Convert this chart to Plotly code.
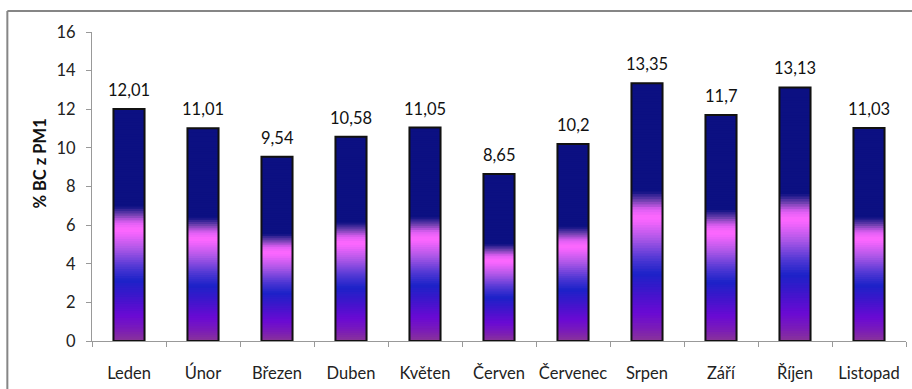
import plotly.graph_objects as go

# Monthly share of black carbon in PM1
months = ["Leden", "Únor", "Březen", "Duben", "Květen", "Červen",
          "Červenec", "Srpen", "Září", "Říjen", "Listopad"]
values = [12.01, 11.01, 9.54, 10.58, 11.05, 8.65, 10.2, 13.35, 11.7, 13.13, 11.03]
labels = ["12,01", "11,01", "9,54", "10,58", "11,05", "8,65",
          "10,2", "13,35", "11,7", "13,13", "11,03"]

# Vertical fill gradient, as (fraction of bar height, hex colour)
grad_stops = [
    (0.00, "#8a3498"),
    (0.05, "#7a1cb8"),
    (0.11, "#6a0ad4"),
    (0.18, "#4414cc"),
    (0.26, "#1c22c8"),
    (0.32, "#5038d4"),
    (0.40, "#b058e8"),
    (0.46, "#f064fc"),
    (0.48, "#ff68ff"),
    (0.51, "#e060f4"),
    (0.545, "#7040b0"),
    (0.58, "#0c1082"),
    (1.00, "#0c1082"),
]

def _rgb(h):
    return [int(h[i:i + 2], 16) for i in (1, 3, 5)]

def grad_color(f):
    for (f0, c0), (f1, c1) in zip(grad_stops[:-1], grad_stops[1:]):
        if f0 <= f <= f1:
            t = 0 if f1 == f0 else (f - f0) / (f1 - f0)
            c = [round(a + (b - a) * t) for a, b in zip(_rgb(c0), _rgb(c1))]
            return "rgb(%d,%d,%d)" % tuple(c)
    return grad_stops[-1][1]

FONT = "Lato, sans-serif"
FS = 16.5
N = 100
BAR_W = 0.42
fig = go.Figure()
for i in range(N):
    f0, f1 = i / N, (i + 1) / N
    # each slice reaches a little into the next one so no seams show
    fig.add_trace(go.Bar(
        x=months,
        y=[v * (f1 - f0) * (1.6 if i < N - 1 else 1.0) for v in values],
        base=[v * f0 for v in values],
        width=BAR_W,
        marker=dict(color=grad_color((f0 + f1) / 2), line=dict(width=0)),
        hoverinfo="skip", showlegend=False,
    ))

# Bar outlines
fig.add_trace(go.Bar(
    x=months, y=values, width=BAR_W,
    marker=dict(color="rgba(0,0,0,0)", line=dict(color="#111111", width=2)),
    showlegend=False,
))

# Value labels above the bars
annotations = [
    dict(x=m, y=v, text=t, xref="x", yref="y", showarrow=False,
         yanchor="bottom", yshift=7,
         font=dict(family=FONT, size=FS, color="#111111"))
    for m, v, t in zip(months, values, labels)
]
# Y axis title
annotations.append(dict(
    text="<b>% BC z PM1</b>", xref="paper", yref="paper",
    x=-0.064, y=0.574, xanchor="center", yanchor="middle",
    textangle=-90, showarrow=False,
    font=dict(family=FONT, size=FS, color="#111111"),
))

# Chart frame (top and left edges)
frame = dict(color="#868686", width=2)
shapes = [
    dict(type="line", xref="paper", yref="paper",
         x0=-0.104, x1=1.2, y0=1.068, y1=1.068, line=frame),
    dict(type="line", xref="paper", yref="paper",
         x0=-0.104, x1=-0.104, y0=-0.6, y1=1.068, line=frame),
]

fig.update_layout(
    width=912, height=389,
    margin=dict(l=92, r=6, t=32, b=48),
    barmode="overlay",
    plot_bgcolor="white", paper_bgcolor="white",
    font=dict(family=FONT, size=FS, color="#222222"),
    annotations=annotations,
    shapes=shapes,
)
fig.update_xaxes(
    type="category", tickson="boundaries", ticks="outside", ticklen=5,
    tickcolor="#999999", showline=True, linecolor="#999999", linewidth=1,
    showgrid=False, ticklabelstandoff=17, tickangle=0, automargin=False,
    tickfont=dict(family=FONT, size=FS, color="#222222"),
)
fig.update_yaxes(
    range=[0, 16], dtick=2, ticks="outside", ticklen=5,
    tickcolor="#999999", showline=True, linecolor="#999999", linewidth=1,
    showgrid=False, zeroline=False, ticklabelstandoff=7, automargin=False,
    tickfont=dict(family=FONT, size=FS, color="#222222"),
)
fig.write_html("out.html")
